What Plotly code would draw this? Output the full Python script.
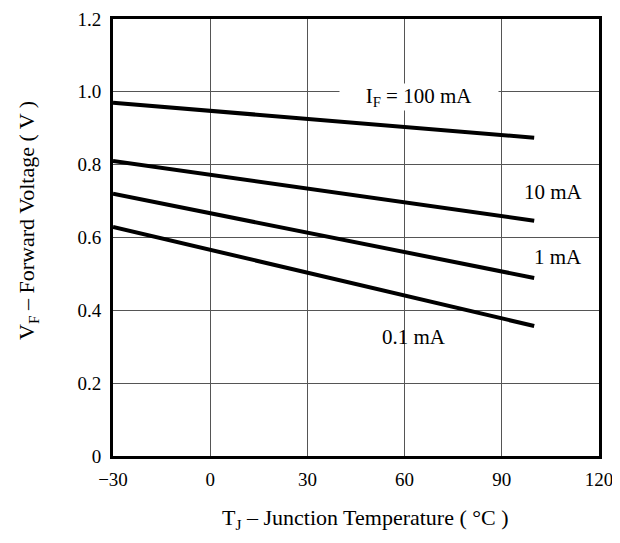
import plotly.graph_objects as go

temps = [-30, 100]
vf_100mA = [0.970, 0.874]
vf_10mA = [0.810, 0.646]
vf_1mA = [0.720, 0.489]
vf_01mA = [0.629, 0.357]

x_ticks = [-30, 0, 30, 60, 90, 120]
x_labels = ["\u221230", "0", "30", "60", "90", "120"]
y_ticks = [0, 0.2, 0.4, 0.6, 0.8, 1.0, 1.2]
y_labels = ["0", "0.2", "0.4", "0.6", "0.8", "1.0", "1.2"]

series = [("100 mA", vf_100mA), ("10 mA", vf_10mA), ("1 mA", vf_1mA), ("0.1 mA", vf_01mA)]

FONT = "Liberation Serif, Times New Roman, serif"

fig = go.Figure()
for name, vals in series:
    fig.add_trace(go.Scatter(x=temps, y=vals, mode="lines", name=name,
                             line=dict(color="black", width=4), showlegend=False))

annos = [
    dict(x=64.5, y=0.986, text="I<sub>F</sub> = 100 mA", bgcolor="white", borderpad=0,
         width=158),
    dict(x=106, y=0.725, text="10 mA"),
    dict(x=107.4, y=0.547, text="1 mA"),
    dict(x=63, y=0.327, text="0.1 mA"),
]
for a in annos:
    a.update(xref="x", yref="y", showarrow=False, xanchor="center", yanchor="middle",
             font=dict(family=FONT, size=21, color="black"))
    fig.add_annotation(**a)

# axis titles as paper annotations for exact placement
fig.add_annotation(x=-0.175, y=0.54, xref="paper", yref="paper", showarrow=False,
                   xanchor="center", yanchor="middle",
                   text="V<sub>F</sub> \u2013 Forward Voltage ( V )", textangle=-90,
                   font=dict(family=FONT, size=22, color="black"))
fig.add_annotation(x=0.52, y=-0.144, xref="paper", yref="paper", showarrow=False,
                   xanchor="center", yanchor="middle",
                   text="T<sub>J</sub> \u2013 Junction Temperature ( \u00b0C )",
                   font=dict(family=FONT, size=22, color="black"))

fig.update_layout(
    width=604, height=527,
    margin=dict(l=105, r=13, t=11, b=79),
    paper_bgcolor="white", plot_bgcolor="white",
    font=dict(family=FONT, size=19, color="black"),
)
fig.update_xaxes(
    range=[-30, 120], tickvals=x_ticks, ticktext=x_labels,
    showgrid=True, gridcolor="#555555", gridwidth=1,
    showline=True, linecolor="black", linewidth=3, mirror=True,
    zeroline=False, ticks="", ticklabelstandoff=4, automargin=False,
    ticklabeloverflow="allow",
    tickfont=dict(family=FONT, size=19),
)
fig.update_yaxes(
    range=[0, 1.2], tickvals=y_ticks, ticktext=y_labels,
    showgrid=True, gridcolor="#555555", gridwidth=1,
    showline=True, linecolor="black", linewidth=3, mirror=True,
    zeroline=False, ticks="", ticklabelstandoff=5, automargin=False,
    ticklabeloverflow="allow",
    tickfont=dict(family=FONT, size=19),
)

fig.write_html("out.html")
